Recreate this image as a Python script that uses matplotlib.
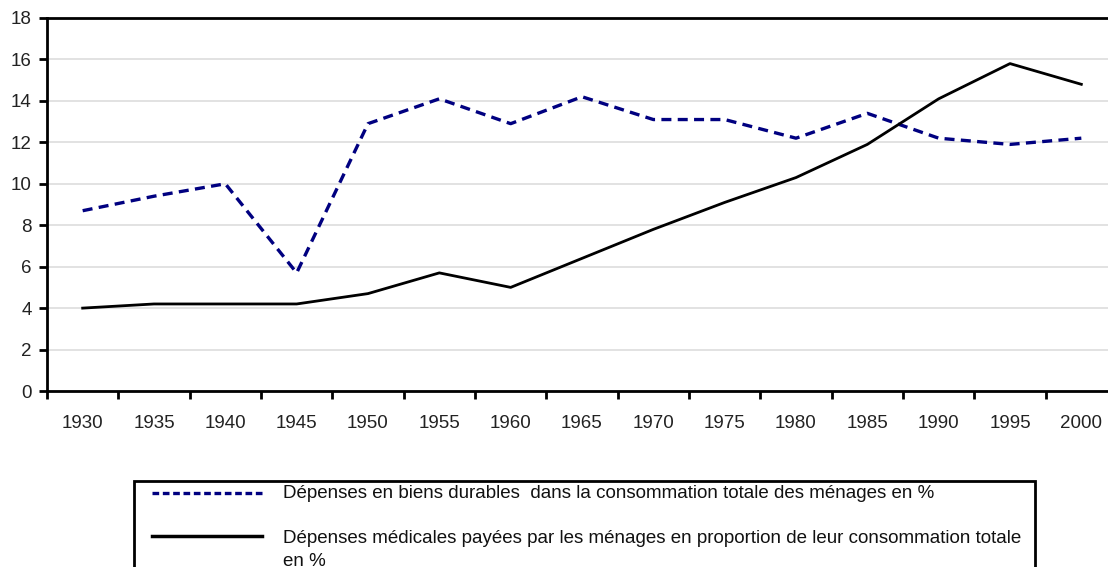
import matplotlib.pyplot as plt
from matplotlib.patches import Rectangle
from matplotlib.lines import Line2D

plt.rcParams['font.family'] = ['Liberation Sans', 'DejaVu Sans']

annees = ['1930', '1935', '1940', '1945', '1950', '1955', '1960', '1965',
          '1970', '1975', '1980', '1985', '1990', '1995', '2000']
biens_durables = [8.7, 9.4, 10.0, 5.7, 12.9, 14.1, 12.9, 14.2,
                  13.1, 13.1, 12.2, 13.4, 12.2, 11.9, 12.2]
depenses_medicales = [4.0, 4.2, 4.2, 4.2, 4.7, 5.7, 5.0, 6.4,
                      7.8, 9.1, 10.3, 11.9, 14.1, 15.8, 14.8]
label_biens = 'Dépenses en biens durables  dans la consommation totale des ménages en %'
label_med = ('Dépenses médicales payées par les ménages en proportion de leur consommation totale\n'
             'en %')

W, H = 1108, 567
fig = plt.figure(figsize=(W / 100, H / 100), dpi=100)
ax = fig.add_axes([47 / W, 1 - 391 / H, 1070 / W, 373 / H])

x = range(len(annees))
ax.plot(x, biens_durables, color='#000080', lw=2.4, dashes=(3.0, 1.9))
ax.plot(x, depenses_medicales, color='black', lw=2.0)

ax.set_xlim(-0.5, len(annees) - 0.5)
ax.set_ylim(0, 18)
ax.set_yticks(range(0, 19, 2))
ax.set_xticks(list(x))
ax.set_xticklabels(annees)
ax.set_xticks([i - 0.5 for i in range(len(annees) + 1)], minor=True)
ax.tick_params(axis='x', which='major', length=0, pad=17, labelsize=13.5, labelcolor='#222222')
ax.tick_params(axis='x', which='minor', length=6, width=2, direction='out')
ax.tick_params(axis='y', length=6, width=2, pad=5, labelsize=13.5, labelcolor='#222222')
ax.grid(axis='y', color='#dddddd', lw=1.2)
ax.set_axisbelow(True)
for s in ['left', 'top', 'bottom']:
    ax.spines[s].set_linewidth(2)
ax.spines['right'].set_visible(False)

# legende (coupee en bas comme l'original)
def fx(px):
    return px / W

def fy(py):
    return 1 - py / H

fig.add_artist(Rectangle((fx(134), fy(600)), fx(1035) - fx(134), fy(481) - fy(600),
                         transform=fig.transFigure, fill=False, lw=2, edgecolor='black'))
fig.add_artist(Line2D([fx(152), fx(262)], [fy(493), fy(493)], transform=fig.transFigure,
                      color='#000080', lw=2.4, dashes=(2.0, 1.1)))
fig.add_artist(Line2D([fx(152), fx(262)], [fy(536), fy(536)], transform=fig.transFigure,
                      color='black', lw=2.5))
fig.text(fx(283), fy(493), label_biens, fontsize=13.5, va='center', ha='left', color='#111111')
fig.text(fx(283), fy(530), label_med, fontsize=13.5, va='top', ha='left', color='#111111',
         linespacing=1.5)

fig.savefig('out.png', dpi=100)
